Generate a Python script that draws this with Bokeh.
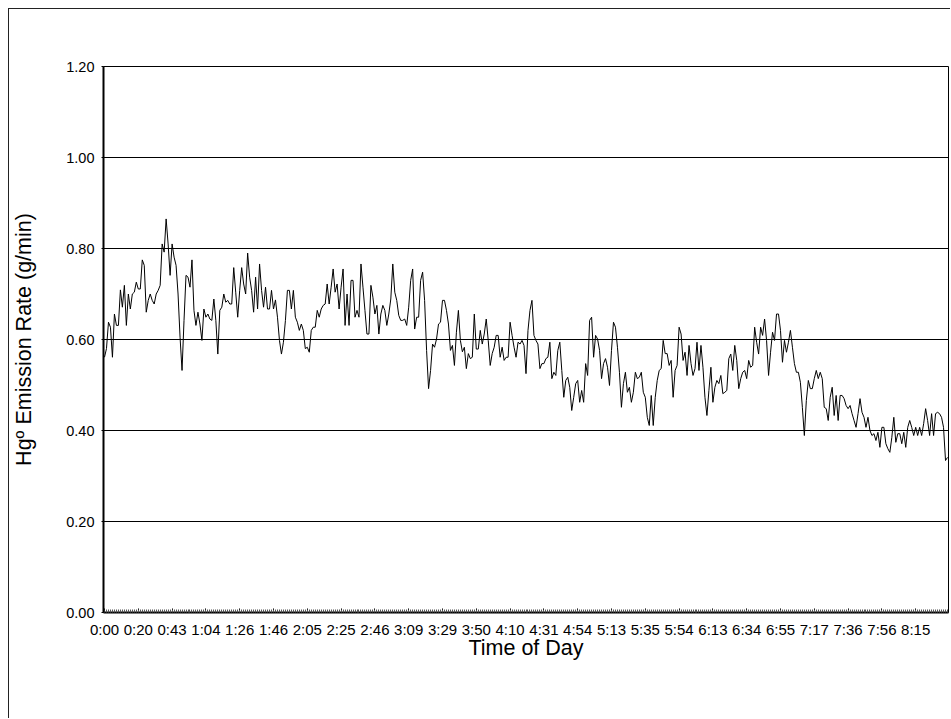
from bokeh.plotting import figure
from bokeh.models import FixedTicker, NumeralTickFormatter, Range1d, ColumnDataSource
from bokeh.embed import file_html
from bokeh.resources import INLINE

# Time-of-day tick labels (one label every 17 samples)
time_labels = ["0:00", "0:20", "0:43", "1:04", "1:26", "1:46", "2:05", "2:25", "2:46",
               "3:09", "3:29", "3:50", "4:10", "4:31", "4:54", "5:13", "5:35", "5:54",
               "6:13", "6:34", "6:55", "7:17", "7:36", "7:56", "8:15"]
samples_per_label = 17

# Hg0 emission rate (g/min), segment 1 (0:00 - ~2:50)
rate_a = [0.561, 0.580, 0.638, 0.627, 0.561, 0.656, 0.631, 0.631, 0.709, 0.671,
          0.719, 0.631, 0.700, 0.667, 0.700, 0.704, 0.726, 0.711, 0.711, 0.775,
          0.763, 0.660, 0.686, 0.700, 0.686, 0.678, 0.700, 0.708, 0.719, 0.810,
          0.792, 0.865, 0.810, 0.741, 0.810, 0.781, 0.763, 0.700, 0.605, 0.532,
          0.642, 0.741, 0.737, 0.715, 0.775, 0.664, 0.631, 0.660, 0.634, 0.598,
          0.667, 0.649, 0.656, 0.645, 0.642, 0.689, 0.642, 0.568, 0.664, 0.671,
          0.700, 0.682, 0.686, 0.678, 0.678, 0.758, 0.704, 0.649, 0.708, 0.758,
          0.722, 0.700, 0.790, 0.737, 0.708, 0.660, 0.737, 0.667, 0.766, 0.708,
          0.671, 0.715, 0.667, 0.667, 0.708, 0.667, 0.687, 0.649, 0.598, 0.568,
          0.594, 0.642, 0.708, 0.708, 0.667, 0.708, 0.649, 0.638, 0.620, 0.634,
          0.620, 0.580, 0.583, 0.572, 0.620, 0.627, 0.627, 0.664, 0.649, 0.667,
          0.675, 0.678, 0.722, 0.678, 0.715, 0.755, 0.704, 0.722, 0.667, 0.715,
          0.755, 0.631, 0.700, 0.631, 0.730, 0.730, 0.649, 0.664, 0.649, 0.766,
          0.715, 0.664, 0.612, 0.612, 0.719, 0.693, 0.656, 0.675, 0.612, 0.656,
          0.675, 0.664, 0.631, 0.656]

# segment 2 (~2:50 - ~5:40)
rate_b = [0.689, 0.766, 0.704, 0.686, 0.653, 0.642, 0.642, 0.645, 0.631, 0.671,
          0.730, 0.755, 0.623, 0.649, 0.649, 0.730, 0.748, 0.686, 0.576, 0.492,
          0.532, 0.590, 0.583, 0.601, 0.634, 0.638, 0.686, 0.686, 0.664, 0.634,
          0.576, 0.587, 0.543, 0.616, 0.664, 0.598, 0.573, 0.583, 0.536, 0.569,
          0.558, 0.561, 0.656, 0.579, 0.579, 0.620, 0.590, 0.612, 0.645, 0.598,
          0.543, 0.569, 0.583, 0.609, 0.609, 0.561, 0.583, 0.554, 0.561, 0.561,
          0.638, 0.609, 0.583, 0.561, 0.594, 0.590, 0.598, 0.587, 0.525, 0.620,
          0.664, 0.686, 0.609, 0.598, 0.590, 0.536, 0.547, 0.547, 0.558, 0.561,
          0.594, 0.514, 0.528, 0.521, 0.576, 0.594, 0.532, 0.473, 0.510, 0.517,
          0.495, 0.444, 0.473, 0.503, 0.510, 0.462, 0.488, 0.462, 0.547, 0.521,
          0.642, 0.649, 0.561, 0.609, 0.601, 0.576, 0.514, 0.547, 0.558, 0.539,
          0.499, 0.576, 0.638, 0.627, 0.583, 0.528, 0.451, 0.503, 0.528, 0.484,
          0.495, 0.462, 0.484, 0.528, 0.514, 0.517, 0.528, 0.484, 0.473, 0.429,
          0.411, 0.477, 0.411, 0.473, 0.510, 0.532, 0.536, 0.598, 0.569, 0.569,
          0.543, 0.554, 0.473, 0.532, 0.543]

# segment 3 (~5:40 - end)
rate_c = [0.627, 0.612, 0.554, 0.572, 0.521, 0.587, 0.547, 0.521, 0.536, 0.594,
          0.532, 0.587, 0.539, 0.473, 0.433, 0.488, 0.539, 0.462, 0.495, 0.510,
          0.503, 0.521, 0.481, 0.484, 0.488, 0.558, 0.568, 0.532, 0.587, 0.554,
          0.492, 0.514, 0.528, 0.532, 0.514, 0.554, 0.539, 0.543, 0.627, 0.594,
          0.568, 0.627, 0.609, 0.645, 0.598, 0.521, 0.572, 0.616, 0.598, 0.656,
          0.656, 0.620, 0.550, 0.598, 0.572, 0.594, 0.620, 0.583, 0.547, 0.528,
          0.528, 0.506, 0.451, 0.389, 0.466, 0.510, 0.492, 0.492, 0.514, 0.532,
          0.514, 0.528, 0.514, 0.451, 0.448, 0.422, 0.473, 0.495, 0.433, 0.477,
          0.422, 0.477, 0.477, 0.470, 0.455, 0.448, 0.455, 0.437, 0.422, 0.407,
          0.437, 0.470, 0.440, 0.429, 0.407, 0.429, 0.400, 0.389, 0.393, 0.378,
          0.396, 0.363, 0.407, 0.407, 0.371, 0.360, 0.352, 0.385, 0.429, 0.374,
          0.393, 0.393, 0.371, 0.396, 0.363, 0.407, 0.422, 0.407, 0.389, 0.407,
          0.389, 0.407, 0.389, 0.415, 0.448, 0.422, 0.389, 0.437, 0.389, 0.437,
          0.440, 0.437, 0.429, 0.407, 0.334, 0.341]

rate = rate_a + rate_b + rate_c
n = len(rate)
idx = list(range(n))
label_pos = [i * samples_per_label for i in range(len(time_labels))]

FONT = "Liberation Sans"

p = figure(width=942, height=710, output_backend="svg", toolbar_location=None,
           x_range=Range1d(-0.5, n - 0.5), y_range=Range1d(0, 1.2),
           min_border_left=94, min_border_top=57, min_border_right=3, min_border_bottom=107)
p.styles = {"margin-left": "8px", "margin-top": "8px",
            "border-left": "1px solid #222", "border-top": "1px solid #222"}
p.background_fill_color = "white"
p.border_fill_color = "white"
p.outline_line_color = "black"
p.outline_line_width = 1

src = ColumnDataSource(data=dict(x=idx, y=rate))
p.line("x", "y", source=src, line_color="black", line_width=1)

# x axis
p.xaxis.ticker = FixedTicker(ticks=label_pos, minor_ticks=idx)
p.xaxis.major_label_overrides = {pos: lab for pos, lab in zip(label_pos, time_labels)}
p.xaxis.major_label_text_font = FONT
p.xaxis.major_label_text_font_size = "15px"
p.xaxis.major_label_text_color = "black"
p.xaxis.major_label_standoff = 8
p.xaxis.axis_line_color = "black"
p.xaxis.axis_line_width = 2
p.xaxis.major_tick_in = 4
p.xaxis.major_tick_out = 0
p.xaxis.minor_tick_in = 3
p.xaxis.minor_tick_out = 0
p.xaxis.major_tick_line_color = "black"
p.xaxis.minor_tick_line_color = "#555555"
p.xaxis.axis_label = "Time of Day"
p.xaxis.axis_label_text_font = FONT
p.xaxis.axis_label_text_font_size = "21.5px"
p.xaxis.axis_label_text_font_style = "normal"
p.xaxis.axis_label_text_color = "black"
p.xaxis.axis_label_standoff = -5

# y axis
p.yaxis.ticker = FixedTicker(ticks=[0.0, 0.2, 0.4, 0.6, 0.8, 1.0, 1.2], minor_ticks=[])
p.yaxis.formatter = NumeralTickFormatter(format="0.00")
p.yaxis.major_label_text_font = FONT
p.yaxis.major_label_text_font_size = "14.5px"
p.yaxis.major_label_text_color = "black"
p.yaxis.major_label_standoff = 7
p.yaxis.axis_line_color = "black"
p.yaxis.axis_line_width = 2
p.yaxis.major_tick_in = 0
p.yaxis.major_tick_out = 2
p.yaxis.major_tick_line_color = "black"
p.yaxis.minor_tick_line_color = None
p.yaxis.axis_label = "Hg\u00ba Emission Rate (g/min)"
p.yaxis.axis_label_text_font = FONT
p.yaxis.axis_label_text_font_size = "21.5px"
p.yaxis.axis_label_text_font_style = "normal"
p.yaxis.axis_label_text_color = "black"
p.yaxis.axis_label_standoff = 27

p.xgrid.grid_line_color = None
p.ygrid.ticker = FixedTicker(ticks=[0.2, 0.4, 0.6, 0.8, 1.0])
p.ygrid.grid_line_color = "black"
p.ygrid.grid_line_width = 1

open("out.html", "w").write(file_html(p, INLINE))
